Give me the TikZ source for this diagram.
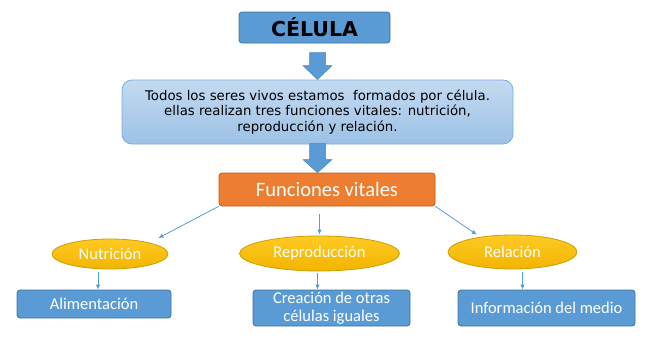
\documentclass[tikz,border=0pt]{standalone}
\usepackage{fontspec}
\setmainfont{Carlito}
\newfontfamily\dejavu{DejaVu Sans}
\usetikzlibrary{arrows.meta,shapes.geometric,calc}
\definecolor{azul}{HTML}{5B9BD5}
\definecolor{bordeazul}{HTML}{41719C}
\definecolor{celeste1}{HTML}{C3DAF0}
\definecolor{celeste2}{HTML}{9DC1E6}
\definecolor{bordeceleste}{HTML}{7AAEDF}
\definecolor{naranja}{HTML}{ED7D31}
\definecolor{bordenaranja}{HTML}{C55A11}
\definecolor{amarillo1}{HTML}{FFCA24}
\definecolor{amarillo2}{HTML}{F2B400}
\definecolor{bordeamarillo}{HTML}{C9A000}
\tikzset{
  caja/.style={draw=bordeazul, fill=azul, rounded corners=3pt, line width=0.8pt,
    text=white, inner sep=0pt, align=center, font=\fontsize{16.5}{18}\selectfont},
  funcion/.style={ellipse, draw=bordeamarillo, top color=amarillo1, bottom color=amarillo2,
    line width=0.8pt, text=white, inner sep=0pt, font=\fontsize{16.5}{18}\selectfont},
  flecha/.style={-{Latex[length=5pt,width=4.5pt]}, draw=azul, line width=0.8pt},
  flechagrande/.style={fill=azul, draw=azul!85!black, line width=0.5pt, line join=miter},
}
\begin{document}
\begin{tikzpicture}[x=1pt,y=-1pt]
    \useasboundingbox (0,0) rectangle (650,343);
    % title and description
    \node[caja, text=black, minimum width=151pt, minimum height=31pt,
      font=\dejavu\bfseries\fontsize{20.5}{22}\selectfont] (celula) at (314.5,27.5) {CÉLULA};
    \node[draw=bordeceleste, top color=celeste1, bottom color=celeste2, rounded corners=10pt,
      line width=0.8pt, minimum width=391pt, minimum height=64pt, inner sep=0pt, align=center,
      font=\dejavu\fontsize{13.3}{15.5}\selectfont] (texto) at (317.5,112)
      {Todos los seres vivos estamos \ formados por célula.\\
       ellas realizan tres funciones vitales: nutrición,\\
       reproducción y relación.};
    \node[caja, fill=naranja, draw=bordenaranja, minimum width=216pt, minimum height=33pt,
      font=\fontsize{20.5}{22}\selectfont] (funciones) at (327,189.5) {Funciones vitales};
    % block arrows, drawn back from the tip
    \foreach \destino/\largo/\punta in {texto/27/14, funciones/29/13} {
      \coordinate (tip) at (texto.center |- \destino.north);
      \draw[flechagrande] ($(tip)+(-8,-\largo)$) -- ($(tip)+(8,-\largo)$)
        -- ($(tip)+(8,-\punta)$) -- ($(tip)+(14.5,-\punta)$)
        -- (tip) -- ($(tip)+(-14.5,-\punta)$)
        -- ($(tip)+(-8,-\punta)$) -- cycle;
    }
    % the three functions
    \node[funcion, minimum width=116pt, minimum height=30pt] (nutricion) at (110,254) {Nutrición};
    \node[funcion, minimum width=160pt, minimum height=35pt] (reproduccion) at (319.5,253.5) {Reproducción};
    \node[funcion, minimum width=129pt, minimum height=34pt] (relacion) at (512.5,252) {Relación};
    \draw[flecha, shorten >=10pt] (funciones.south west) -- (nutricion.16);
    \draw[flecha, shorten <=8pt, shorten >=1pt] (funciones.south -| reproduccion.north) -- (reproduccion.north);
    \draw[flecha, shorten >=4pt] (funciones.south east) -- (relacion.155);
    % what each one means
    \node[caja, minimum width=154pt, minimum height=28pt] (alimentacion) at (94,304) {Alimentación};
    \node[caja, minimum width=157pt, minimum height=36pt] (creacion) at (331.5,308) {Creación de otras\\células iguales};
    \node[caja, minimum width=177pt, minimum height=36pt] (informacion) at (546.5,308) {Información del medio};
    \draw[flecha, shorten <=3pt] ([xshift=4pt]nutricion.south -| alimentacion.north) -- ([xshift=4pt]alimentacion.north);
    \draw[flecha, shorten <=2pt] ([xshift=-2pt]reproduccion.south) -- ([xshift=-2pt]reproduccion.south |- creacion.north);
    \draw[flecha, shorten <=3pt] ([xshift=10pt]relacion.south) -- ([xshift=10pt]relacion.south |- informacion.north);
\end{tikzpicture}
\end{document}
